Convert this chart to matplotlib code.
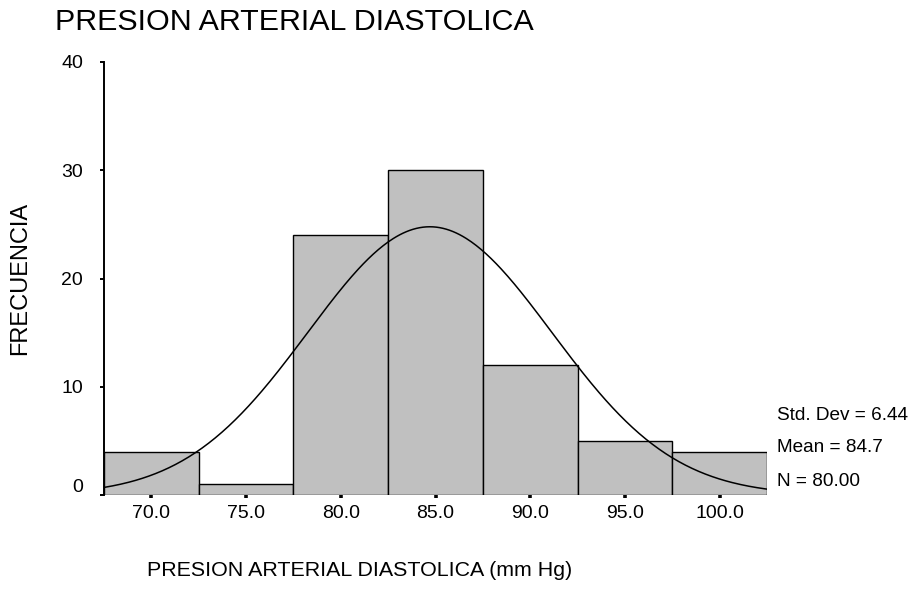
import numpy as np
import matplotlib
matplotlib.use("Agg")
import matplotlib.pyplot as plt
from matplotlib.transforms import ScaledTranslation

plt.rcParams['font.family'] = ['Liberation Sans', 'DejaVu Sans']

# Histogram of diastolic blood pressure (bin centres, width 5 mmHg)
bin_centers = [70, 75, 80, 85, 90, 95, 100]
counts = [4, 1, 24, 30, 12, 5, 4]
bin_width = 5.0
std_dev = 6.44
mean = 84.7
n_obs = 80

x_ticks = [70, 75, 80, 85, 90, 95, 100]
x_tick_labels = ["70.0", "75.0", "80.0", "85.0", "90.0", "95.0", "100.0"]
y_ticks = [0, 10, 20, 30, 40]

fig = plt.figure(figsize=(9.13, 5.90), dpi=100)
ax = fig.add_axes([104 / 913, 1 - 495 / 590, (767 - 104) / 913, (495 - 62) / 590])

ax.bar(bin_centers, counts, width=bin_width, color="#c0c0c0",
       edgecolor="black", linewidth=1.0, zorder=2)

# Fitted normal curve scaled to the histogram
lo = bin_centers[0] - bin_width / 2
hi = bin_centers[-1] + bin_width / 2
xs = np.linspace(lo, hi, 400)
ys = n_obs * bin_width * np.exp(-0.5 * ((xs - mean) / std_dev) ** 2) / (std_dev * np.sqrt(2 * np.pi))
ax.plot(xs, ys, color="black", linewidth=1.1, zorder=3)

ax.set_xlim(lo, hi)
ax.set_ylim(0, 40)
ax.set_xticks(x_ticks)
ax.set_xticklabels(x_tick_labels)
ax.set_yticks(y_ticks)

for side in ("top", "right", "bottom"):
    ax.spines[side].set_visible(False)
ax.spines["left"].set_linewidth(1.4)

ax.tick_params(axis="y", direction="out", length=3, width=1.4, labelsize=14, pad=12)
ax.tick_params(axis="x", direction="out", length=2.2, width=2.6, labelsize=14, pad=5)

fig.canvas.draw()
zero_lbl = ax.get_yticklabels()[0]
zero_lbl.set_transform(zero_lbl.get_transform() + ScaledTranslation(0, 7 / 72, fig.dpi_scale_trans))

fig.text(55 / 913, 1 - 22 / 590, "PRESION ARTERIAL DIASTOLICA", fontsize=21.9,
         ha="left", va="center")
fig.text(20 / 913, 1 - 278 / 590, "FRECUENCIA", fontsize=17, rotation=90,
         ha="center", va="center")
fig.text(360 / 913, 1 - 570 / 590, "PRESION ARTERIAL DIASTOLICA (mm Hg)", fontsize=15.4,
         ha="center", va="center")

stats = [f"Std. Dev = {std_dev:.2f}", f"Mean = {mean:.1f}", f"N = {n_obs:.2f}"]
for i, s in enumerate(stats):
    fig.text(777 / 913, 1 - (415 + 33 * i) / 590, s, fontsize=13.7, ha="left", va="center")

fig.savefig("out.png", dpi=100)
